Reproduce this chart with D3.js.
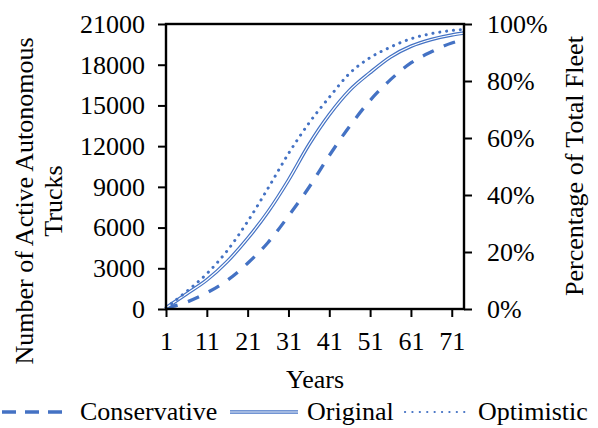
<!DOCTYPE html>
<html>
<head>
<meta charset="utf-8">
<script src="https://cdn.jsdelivr.net/npm/d3@7"></script>
<style>
  body { margin: 0; background: #fff; }
  text { font-family: "Liberation Serif", "Times New Roman", serif; fill: #000; }
</style>
</head>
<body>
<svg id="chart" width="598" height="428"></svg>
<script>
// Adoption scenarios: active autonomous trucks by year
const years        = [1, 6, 11, 16, 21, 26, 31, 36, 41, 46, 51, 56, 61, 66, 71, 74];
const conservative = [50, 500, 1190, 2110, 3370, 4900, 6850, 8950, 11310, 13470, 15370, 16900, 18130, 18950, 19600, 19850];
const original     = [100, 1110, 2140, 3500, 5200, 7170, 9500, 12100, 14320, 16120, 17420, 18570, 19360, 19860, 20190, 20330];
const optimistic   = [100, 1280, 2600, 4300, 6450, 8900, 11450, 13690, 15600, 17370, 18520, 19300, 19910, 20290, 20520, 20600];

const countTicks   = [0, 3000, 6000, 9000, 12000, 15000, 18000, 21000];
const percentTicks = [0, 0.2, 0.4, 0.6, 0.8, 1.0];
const yearTicks    = [1, 11, 21, 31, 41, 51, 61, 71];

const seriesNames = ["Conservative", "Original", "Optimistic"];

const BLUE = "#4472C4";
const FONT = 26;

const svg = d3.select("#chart");
const plot = { left: 166, right: 464, top: 24, bottom: 309 };

const x = d3.scaleLinear().domain([1, 74]).range([plot.left, plot.right]);
const y = d3.scaleLinear().domain([0, 21000]).range([plot.bottom, plot.top]);
const yPct = d3.scaleLinear().domain([0, 1]).range([plot.bottom, plot.top]);

const line = d3.line()
  .x(d => x(d[0]))
  .y(d => y(d[1]))
  .curve(d3.curveMonotoneX);

const pts = arr => years.map((yr, i) => [yr, arr[i]]);

// Axes
const styleAxis = g => {
  g.select(".domain").remove();
  g.selectAll(".tick line").attr("stroke", "#000").attr("stroke-width", 2);
  g.selectAll(".tick text").attr("font-size", FONT).attr("fill", "#000")
    .style("font-family", '"Liberation Serif", "Times New Roman", serif');
};

svg.append("g")
  .attr("transform", `translate(${plot.left},0)`)
  .call(d3.axisLeft(y).tickValues(countTicks).tickFormat(d3.format("d")).tickSize(8).tickPadding(13))
  .call(styleAxis);

svg.append("g")
  .attr("transform", `translate(${plot.right},0)`)
  .call(d3.axisRight(yPct).tickValues(percentTicks).tickFormat(d3.format(".0%")).tickSize(8).tickPadding(15))
  .call(styleAxis);

svg.append("g")
  .attr("transform", `translate(0,${plot.bottom})`)
  .call(d3.axisBottom(x).tickValues(yearTicks).tickFormat(d3.format("d")).tickSize(8))
  .call(styleAxis)
  .call(g => g.selectAll(".tick text").attr("y", 41).attr("dy", null));

// Series lines
const gLines = svg.append("g");
gLines.append("path")
  .attr("d", line(pts(conservative)))
  .attr("fill", "none").attr("stroke", BLUE).attr("stroke-width", 3.3)
  .attr("stroke-dasharray", "12,11");
gLines.append("path")
  .attr("d", line(pts(original)))
  .attr("fill", "none").attr("stroke", BLUE).attr("stroke-width", 3.6);
gLines.append("path")
  .attr("d", line(pts(original)))
  .attr("fill", "none").attr("stroke", "#fff").attr("stroke-width", 1.2);
gLines.append("path")
  .attr("d", line(pts(optimistic)))
  .attr("fill", "none").attr("stroke", BLUE).attr("stroke-width", 3)
  .attr("stroke-linecap", "round").attr("stroke-dasharray", "0.1,6.8");

// Plot border
svg.append("rect")
  .attr("x", plot.left).attr("y", plot.top)
  .attr("width", plot.right - plot.left).attr("height", plot.bottom - plot.top)
  .attr("fill", "none").attr("stroke", "#000").attr("stroke-width", 2.4);

// Axis titles
svg.append("text")
  .attr("transform", "translate(33,201) rotate(-90)")
  .attr("text-anchor", "middle").attr("font-size", FONT)
  .text("Number of Active Autonomous");
svg.append("text")
  .attr("transform", "translate(62,201) rotate(-90)")
  .attr("text-anchor", "middle").attr("font-size", FONT)
  .text("Trucks");
svg.append("text")
  .attr("transform", "translate(583,166) rotate(-90)")
  .attr("text-anchor", "middle").attr("font-size", FONT)
  .text("Percentage of Total Fleet");
svg.append("text")
  .attr("x", (plot.left + plot.right) / 2).attr("y", 388)
  .attr("text-anchor", "middle").attr("font-size", FONT)
  .text("Years");

// Legend
const legY = 412;
const legend = svg.append("g");
const items = [
  { name: seriesNames[0], x0: 0,   x1: 62,  tx: 80 },
  { name: seriesNames[1], x0: 230, x1: 298, tx: 307 },
  { name: seriesNames[2], x0: 402, x1: 468, tx: 478 }
];
legend.append("line")
  .attr("x1", items[0].x0 + 2).attr("x2", items[0].x1).attr("y1", legY).attr("y2", legY)
  .attr("stroke", BLUE).attr("stroke-width", 3.3).attr("stroke-dasharray", "14,9");
legend.append("line")
  .attr("x1", items[1].x0).attr("x2", items[1].x1).attr("y1", legY).attr("y2", legY)
  .attr("stroke", BLUE).attr("stroke-width", 3.6);
legend.append("line")
  .attr("x1", items[1].x0).attr("x2", items[1].x1).attr("y1", legY).attr("y2", legY)
  .attr("stroke", "#fff").attr("stroke-width", 1.2);
legend.append("line")
  .attr("x1", items[2].x0 + 3).attr("x2", items[2].x1).attr("y1", legY).attr("y2", legY)
  .attr("stroke", BLUE).attr("stroke-width", 2.2)
  .attr("stroke-linecap", "round").attr("stroke-dasharray", "0.1,7.3");
legend.selectAll("text.leg").data(items).join("text")
  .attr("class", "leg")
  .attr("x", d => d.tx).attr("y", legY + 8)
  .attr("font-size", FONT)
  .text(d => d.name);
</script>
</body>
</html>
